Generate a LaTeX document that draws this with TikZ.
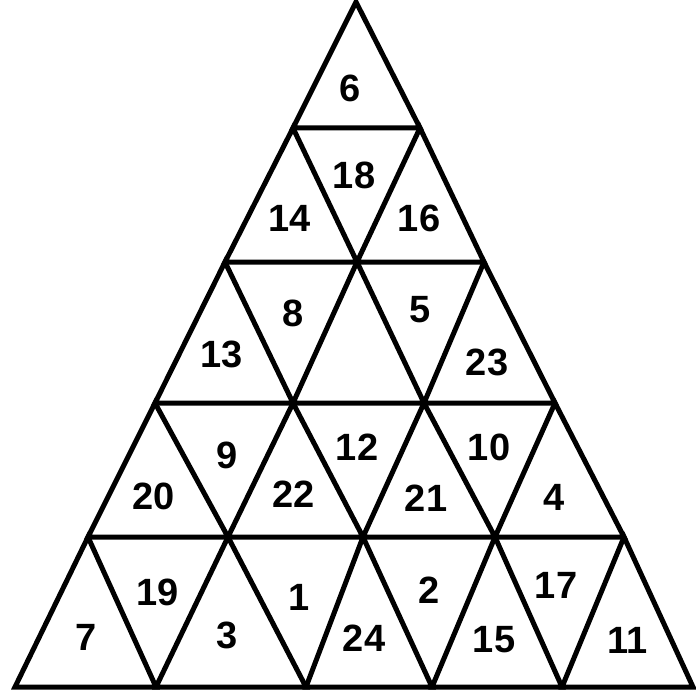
\documentclass[tikz,border=0pt]{standalone}
\usepackage{fontspec}
\setmainfont{Liberation Sans}
\begin{document}
\begin{tikzpicture}[x=1pt,y=-1pt,
  edge/.style={line width=5pt,line join=miter,line cap=butt},
  num/.style={font=\fontsize{38}{38}\selectfont\bfseries,inner sep=0pt}]
\useasboundingbox (0,0) rectangle (695,695);
\coordinate (r0a) at (356,2);
\coordinate (r1a) at (293,128); \coordinate (r1b) at (420,128);
\coordinate (r2a) at (225,262); \coordinate (r2b) at (357,262); \coordinate (r2c) at (484,262);
\coordinate (r3a) at (155,403); \coordinate (r3b) at (293,403); \coordinate (r3c) at (424,403); \coordinate (r3d) at (555,403);
\coordinate (r4a) at (88,537); \coordinate (r4b) at (228,537); \coordinate (r4c) at (363,537); \coordinate (r4d) at (495,537); \coordinate (r4e) at (624,537);
\coordinate (r5a) at (15,687); \coordinate (r5b) at (156,687); \coordinate (r5c) at (306,687); \coordinate (r5d) at (432,687); \coordinate (r5e) at (562,687); \coordinate (r5f) at (693,687);
% up triangles
\draw[edge] (r1a)--(r1b)--(r0a)--cycle;
\draw[edge] (r2a)--(r2b)--(r1a)--cycle;
\draw[edge] (r2b)--(r2c)--(r1b)--cycle;
\draw[edge] (r3a)--(r3b)--(r2a)--cycle;
\draw[edge] (r3b)--(r3c)--(r2b)--cycle;
\draw[edge] (r3c)--(r3d)--(r2c)--cycle;
\draw[edge] (r4a)--(r4b)--(r3a)--cycle;
\draw[edge] (r4b)--(r4c)--(r3b)--cycle;
\draw[edge] (r4c)--(r4d)--(r3c)--cycle;
\draw[edge] (r4d)--(r4e)--(r3d)--cycle;
\draw[edge] (r5a)--(r5b)--(r4a)--cycle;
\draw[edge] (r5b)--(r5c)--(r4b)--cycle;
\draw[edge] (r5c)--(r5d)--(r4c)--cycle;
\draw[edge] (r5d)--(r5e)--(r4d)--cycle;
\draw[edge] (r5e)--(r5f)--(r4e)--cycle;
% numbers
\node[num] (n6) at (350,88) {6};
\node[num] (n18) at (354,175) {18};
\node[num] (n14) at (290,218) {14};
\node[num] (n16) at (419,218) {16};
\node[num] (n8) at (293,313) {8};
\node[num] (n5) at (420,310) {5};
\node[num] (n13) at (222,354) {13};
\node[num] (n23) at (487,362) {23};
\node[num] (n9) at (227,455) {9};
\node[num] (n12) at (357,447) {12};
\node[num] (n10) at (489,447) {10};
\node[num] (n20) at (154,496) {20};
\node[num] (n22) at (294,494) {22};
\node[num] (n21) at (426,498) {21};
\node[num] (n4) at (554,497) {4};
\node[num] (n19) at (158,592) {19};
\node[num] (n1) at (299,597) {1};
\node[num] (n2) at (429,590) {2};
\node[num] (n17) at (556,585) {17};
\node[num] (n7) at (86,637) {7};
\node[num] (n3) at (227,635) {3};
\node[num] (n24) at (364,638) {24};
\node[num] (n15) at (494,640) {15};
\node[num] (n11) at (628,640) {11};
\end{tikzpicture}
\end{document}
